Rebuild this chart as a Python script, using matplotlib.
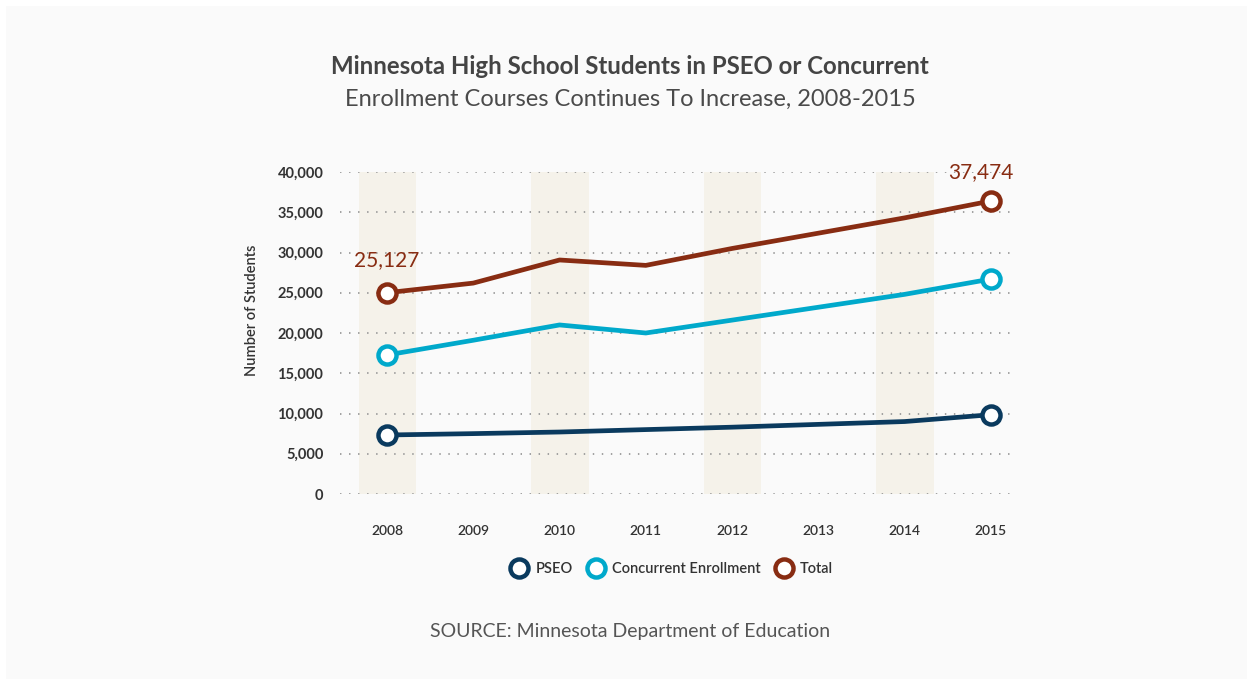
import matplotlib.pyplot as plt
from matplotlib.patches import Rectangle
from matplotlib.lines import Line2D
from matplotlib.ticker import FuncFormatter

plt.rcParams['font.family'] = ['Lato', 'DejaVu Sans']

years = ["2008", "2009", "2010", "2011", "2012", "2013", "2014", "2015"]
pseo = [7330, 7500, 7700, 8000, 8300, 8650, 9000, 9850]
concurrent = [17270, 19100, 21000, 20000, 21600, 23200, 24800, 26700]
total = [25000, 26200, 29070, 28400, 30500, 32400, 34300, 36400]
label_first = "25,127"
label_last = "37,474"

C_PSEO = "#0a3a5e"
C_CONC = "#00a9cb"
C_TOTAL = "#882c12"
BAND = "#f5f2ea"

fig = plt.figure(figsize=(12.53, 6.85), dpi=100)
fig.patch.set_facecolor("white")
fig.patches.append(Rectangle((6 / 1253, 6 / 685), 1241 / 1253, 673 / 685,
                             transform=fig.transFigure, facecolor="#fafafa",
                             edgecolor="none", zorder=-10))

ax = fig.add_axes([340 / 1253, 1 - 494 / 685, 675 / 1253, 322 / 685])
ax.set_facecolor("none")

x = list(range(len(years)))

# shaded bands on every other year
for i in range(0, len(years) - 1, 2):
    ax.axvspan(i - 0.33, i + 0.34, color=BAND, zorder=0, lw=0)

for yv in range(0, 40001, 5000):
    ax.axhline(yv, color="#9a9a9a", lw=1.3, ls=(0, (0.8, 4.2)), zorder=1)

series = [(pseo, C_PSEO), (concurrent, C_CONC), (total, C_TOTAL)]
for vals, col in series:
    ax.plot(x, vals, color=col, lw=3.4, zorder=3, solid_capstyle="round",
            marker="o", markevery=[0, len(x) - 1], markersize=13,
            markerfacecolor="white", markeredgecolor=col, markeredgewidth=3.2,
            clip_on=False)

ax.text(x[0], total[0] + 2800, label_first, color=C_TOTAL, fontsize=15,
        ha="center", va="bottom")
ax.text(x[-1] - 0.12, total[-1] + 2400, label_last, color=C_TOTAL, fontsize=15,
        ha="center", va="bottom")

ax.set_xlim(-0.545, 7.28)
ax.set_ylim(0, 40000)
ax.set_xticks(x)
ax.set_xticklabels(years)
ax.set_yticks(range(0, 40001, 5000))
ax.yaxis.set_major_formatter(FuncFormatter(lambda v, p: f"{int(v):,}"))
for s in ax.spines.values():
    s.set_visible(False)
ax.tick_params(axis="both", length=0, colors="#333333")
ax.tick_params(axis="y", pad=12, labelsize=10.5)
ax.tick_params(axis="x", pad=22, labelsize=10)
for t in ax.get_yticklabels():
    t.set_fontweight("bold")
for t in ax.get_xticklabels():
    t.set_fontweight("semibold")

fig.text(252 / 1253, 1 - 310 / 685, "Number of Students", rotation=90,
         ha="center", va="center", fontsize=10.5, color="#333333",
         fontweight="semibold")

fig.text(630 / 1253, 1 - 66 / 685, "Minnesota High School Students in PSEO or Concurrent",
         ha="center", va="center", fontsize=17.3, fontweight="bold", color="#444444")
fig.text(630 / 1253, 1 - 99 / 685, "Enrollment Courses Continues To Increase, 2008-2015",
         ha="center", va="center", fontsize=17, fontweight="normal", color="#4a4a4a")

handles = [Line2D([], [], ls="none", marker="o", markersize=13,
                  markerfacecolor="white", markeredgecolor=c, markeredgewidth=3.2)
           for c in (C_PSEO, C_CONC, C_TOTAL)]
leg = fig.legend(handles, ["PSEO", "Concurrent Enrollment", "Total"],
                 loc="center", bbox_to_anchor=(669 / 1253, 1 - 569 / 685),
                 ncol=3, frameon=False, handletextpad=0.1, columnspacing=0.6,
                 prop={"size": 10.5, "weight": "semibold"})
for t in leg.get_texts():
    t.set_color("#333333")

fig.text(630 / 1253, 1 - 632 / 685, "SOURCE: Minnesota Department of Education",
         ha="center", va="center", fontsize=14, fontweight="normal", color="#555555")

plt.savefig("out.png", dpi=100, facecolor=fig.get_facecolor())
